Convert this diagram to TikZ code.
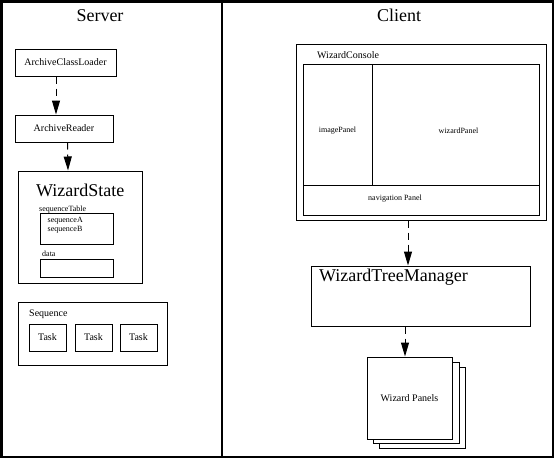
\documentclass[tikz,border=0pt]{standalone}
\usepackage{fontspec}
\setmainfont{Liberation Serif}
\usetikzlibrary{arrows.meta,positioning}

\tikzstyle{box}=[draw, line width=1pt, inner sep=0pt]
\tikzstyle{dep}=[draw, line width=1pt, dash pattern=on 7pt off 5pt,
    -{Triangle[length=14pt,width=8pt]}]
\tikzstyle{lbig}=[inner sep=0pt, font=\fontsize{18}{20}\selectfont]
\tikzstyle{lmid}=[inner sep=0pt, font=\fontsize{10}{12}\selectfont]
\tikzstyle{lsmall}=[inner sep=0pt, font=\fontsize{8}{9}\selectfont]
\def\framew{2.5pt}
\def\stackdx{6.5}
\def\stackdy{5}

\begin{document}
\begin{tikzpicture}[x=1pt,y=-1pt]
	\useasboundingbox (0,0) rectangle (554,458);
	%outer frame and the split
	\draw [line width=\framew] (1.25,1.25) rectangle (552.75,456.75);
	\draw [line width=\framew] (222,1.25) -- (222,456.75);

	\node (srv) [lbig, anchor=base] at (100,21.5) {Server};
	\node (cli) [lbig, anchor=base] at (399,21.5) {Client};

	% server side
	\node (acl) [box, lmid, minimum width=101pt, minimum height=27pt] at (65.5,62.5) {ArchiveClassLoader};
	\path (acl.center)+(-1.5,66) node (ar) [box, lmid, minimum width=98pt, minimum height=27pt] {ArchiveReader};

	\node (ws) [box, minimum width=124pt, minimum height=112pt] at (80,227) {};
	\node (wsl) [lbig, anchor=base west] at (36,196) {WizardState};
	\node (seqtl) [lsmall, anchor=base west] at (39,211.5) {sequenceTable};
	\node (seqt) [box, minimum width=73pt, minimum height=31pt] at (76.5,228.5) {};
	\path (seqt.north west)+(8,4.5) node (seqtt) [lsmall, anchor=north west, align=left] {sequenceA\\sequenceB};
	\node (datal) [lsmall, anchor=base west] at (42,256.5) {data};
	\node (data) [box, minimum width=73pt, minimum height=18pt] at (76.5,268) {};

	\draw [dep] ([xshift=-9.5pt]acl.south) -- ([xshift=-8pt]ar.north);
	\draw [dep] ([xshift=3.5pt]ar.south) -- ([xshift=-12pt]ws.north);

	\node (seq) [box, minimum width=149pt, minimum height=63pt] at (92.5,333.5) {};
	\node (seql) [lmid, anchor=base west] at (29,316) {Sequence};
	\foreach \i/\x in {1/47.5,2/93.5,3/138.5}
		\node (task\i) [box, lmid, minimum width=37pt, minimum height=27pt] at (\x,337.5) {Task};

	% client side
	\node (wc) [box, minimum width=250pt, minimum height=176pt] at (421,132) {};
	\node (wcl) [lmid, anchor=base west] at (317,58) {WizardConsole};
	\node (img) [box, minimum width=69pt, minimum height=121pt] at (337.5,124.5) {};
	\node (wiz) [box, minimum width=167pt, minimum height=121pt] at (455.5,124.5) {};
	\node (nav) [box, minimum width=236pt, minimum height=30pt] at (421,200) {};
	\path (img.center)+(0,6.5) node (imgl) [lsmall] {imagePanel};
	\path (wiz.center)+(3,6.5) node (wizl) [lsmall] {wizardPanel};
	\path (nav.center)+(-26,-1) node (navl) [lsmall] {navigation Panel};

	\node (wtm) [box, minimum width=219pt, minimum height=60pt] at (420.5,296) {};
	\node (wtml) [lbig, anchor=base west] at (319,281) {WizardTreeManager};

	%panel stack, back to front
	\path (409.5,398)+(2*\stackdx,2*\stackdy) node (wp3) [box, fill=white, minimum width=86pt, minimum height=81pt] {};
	\path (409.5,398)+(\stackdx,\stackdy) node (wp2) [box, fill=white, minimum width=86pt, minimum height=81pt] {};
	\node (wp1) [box, fill=white, lmid, minimum width=85pt, minimum height=82pt] at (409.5,398) {Wizard Panels};

	\draw [dep] ([xshift=-13pt]wc.south) -- ([xshift=-12.5pt]wtm.north);
	\draw [dep] ([xshift=-15.5pt]wtm.south) -- ([xshift=-4.5pt]wp1.north);
\end{tikzpicture}
\end{document}
